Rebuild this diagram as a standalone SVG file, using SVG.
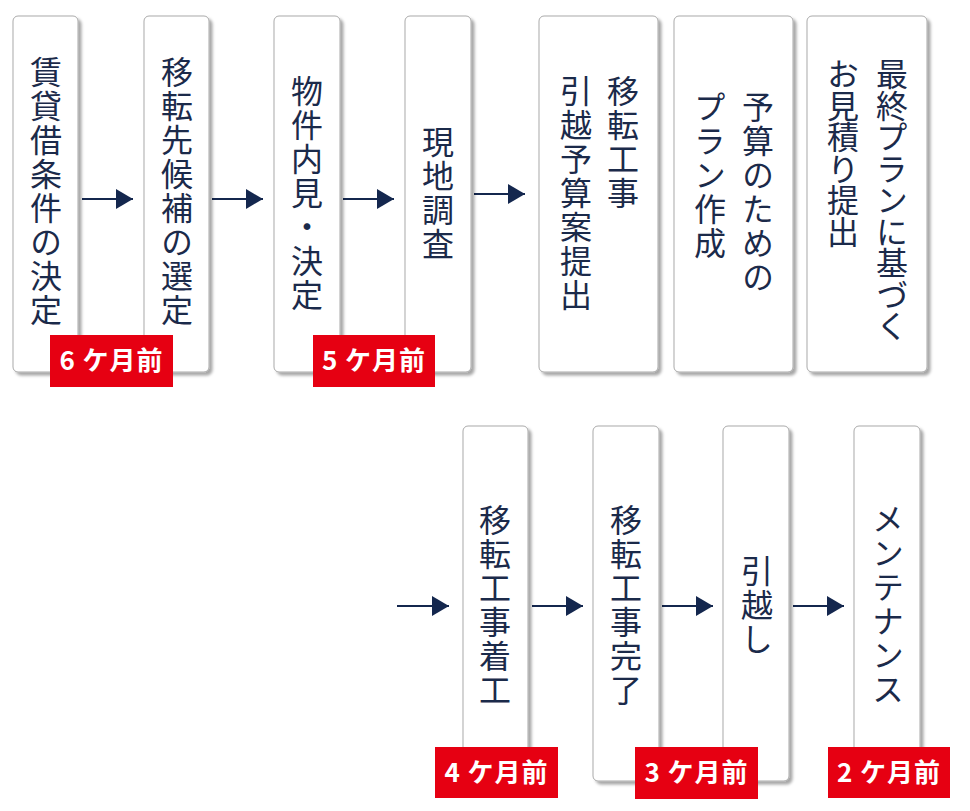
<svg xmlns="http://www.w3.org/2000/svg" width="970" height="811" viewBox="0 0 970 811">
<defs>
<style>
.box{fill:#fff;stroke:#a9a9a9;stroke-width:1;filter:url(#sh)}
.v{writing-mode:vertical-rl;font-family:"Noto Sans CJK JP","Noto Sans CJK SC",sans-serif;font-size:32px;font-weight:400;fill:#1b2a4a;letter-spacing:2px}
.tag{fill:#e60012}
.tagt{font-family:"Noto Sans CJK JP","Noto Sans CJK SC",sans-serif;font-size:26px;font-weight:bold;fill:#fff;text-anchor:middle;letter-spacing:1px}
.ar{stroke:#14274e;stroke-width:2;fill:none;marker-end:url(#ah)}
</style>
<filter id="sh" x="-20%" y="-5%" width="150%" height="115%">
<feDropShadow dx="3" dy="3" stdDeviation="1.8" flood-color="#000" flood-opacity="0.35"/>
</filter>
<marker id="ah" markerUnits="userSpaceOnUse" markerWidth="18" markerHeight="20" refX="17" refY="10" orient="auto">
<path d="M0,0 L17,10 L0,20 z" fill="#14274e"/>
</marker>
</defs>
<rect width="970" height="811" fill="#fff"/>

<g id="connectors">
<line class="ar" x1="82" y1="199" x2="133" y2="199"/>
<line class="ar" x1="212" y1="199" x2="263" y2="199"/>
<line class="ar" x1="343" y1="199" x2="394" y2="199"/>
<line class="ar" x1="474" y1="194" x2="525" y2="194"/>
<line class="ar" x1="397" y1="606" x2="449" y2="606"/>
<line class="ar" x1="532" y1="606" x2="583" y2="606"/>
<line class="ar" x1="662" y1="606" x2="713" y2="606"/>
<line class="ar" x1="793" y1="606" x2="844" y2="606"/>
</g>

<g id="n1">
<rect class="box" x="13" y="16" width="65" height="356" rx="5"/>
<text class="v" x="46" y="56">賃貸借条件の決定</text>
</g>
<g id="n2">
<rect class="box" x="144" y="16" width="65" height="356" rx="5"/>
<text class="v" x="177" y="56">移転先候補の選定</text>
</g>
<g id="n3">
<rect class="box" x="274" y="16" width="66" height="356" rx="5"/>
<text class="v" x="307" y="75">物件内見・決定</text>
</g>
<g id="n4">
<rect class="box" x="405" y="16" width="66" height="356" rx="5"/>
<text class="v" x="438" y="126">現地調査</text>
</g>
<g id="n5">
<rect class="box" x="539" y="16" width="119" height="356" rx="5"/>
<text class="v" x="623" y="75">移転工事</text>
<text class="v" x="576" y="75">引越予算案提出</text>
</g>
<g id="n6">
<rect class="box" x="674" y="16" width="119" height="356" rx="5"/>
<text class="v" x="758" y="91">予算のための</text>
<text class="v" x="710" y="91">プラン作成</text>
</g>
<g id="n7">
<rect class="box" x="807" y="16" width="120" height="356" rx="5"/>
<text class="v" x="892" y="58" style="letter-spacing:-0.5px">最終プランに基づく</text>
<text class="v" x="843" y="58" style="letter-spacing:-0.5px">お見積り提出</text>
</g>
<g id="n8">
<rect class="box" x="463" y="426" width="65" height="355" rx="5"/>
<text class="v" x="495" y="504">移転工事着工</text>
</g>
<g id="n9">
<rect class="box" x="593" y="426" width="66" height="355" rx="5"/>
<text class="v" x="626" y="504">移転工事完了</text>
</g>
<g id="n10">
<rect class="box" x="723" y="426" width="66" height="355" rx="5"/>
<text class="v" x="757" y="555">引越し</text>
</g>
<g id="n11">
<rect class="box" x="854" y="426" width="66" height="355" rx="5"/>
<text class="v" x="888" y="503">メンテナンス</text>
</g>

<g id="tag6">
<rect class="tag" x="50" y="335" width="123" height="52"/>
<text class="tagt" x="111.5" y="370">6 ケ月前</text>
</g>
<g id="tag5">
<rect class="tag" x="313" y="335" width="122" height="52"/>
<text class="tagt" x="374" y="370">5 ケ月前</text>
</g>
<g id="tag4">
<rect class="tag" x="435" y="747" width="123" height="51"/>
<text class="tagt" x="496.5" y="782">4 ケ月前</text>
</g>
<g id="tag3">
<rect class="tag" x="635" y="747" width="123" height="52"/>
<text class="tagt" x="696.5" y="782">3 ケ月前</text>
</g>
<g id="tag2">
<rect class="tag" x="828" y="747" width="122" height="51"/>
<text class="tagt" x="889" y="782">2 ケ月前</text>
</g>
</svg>
